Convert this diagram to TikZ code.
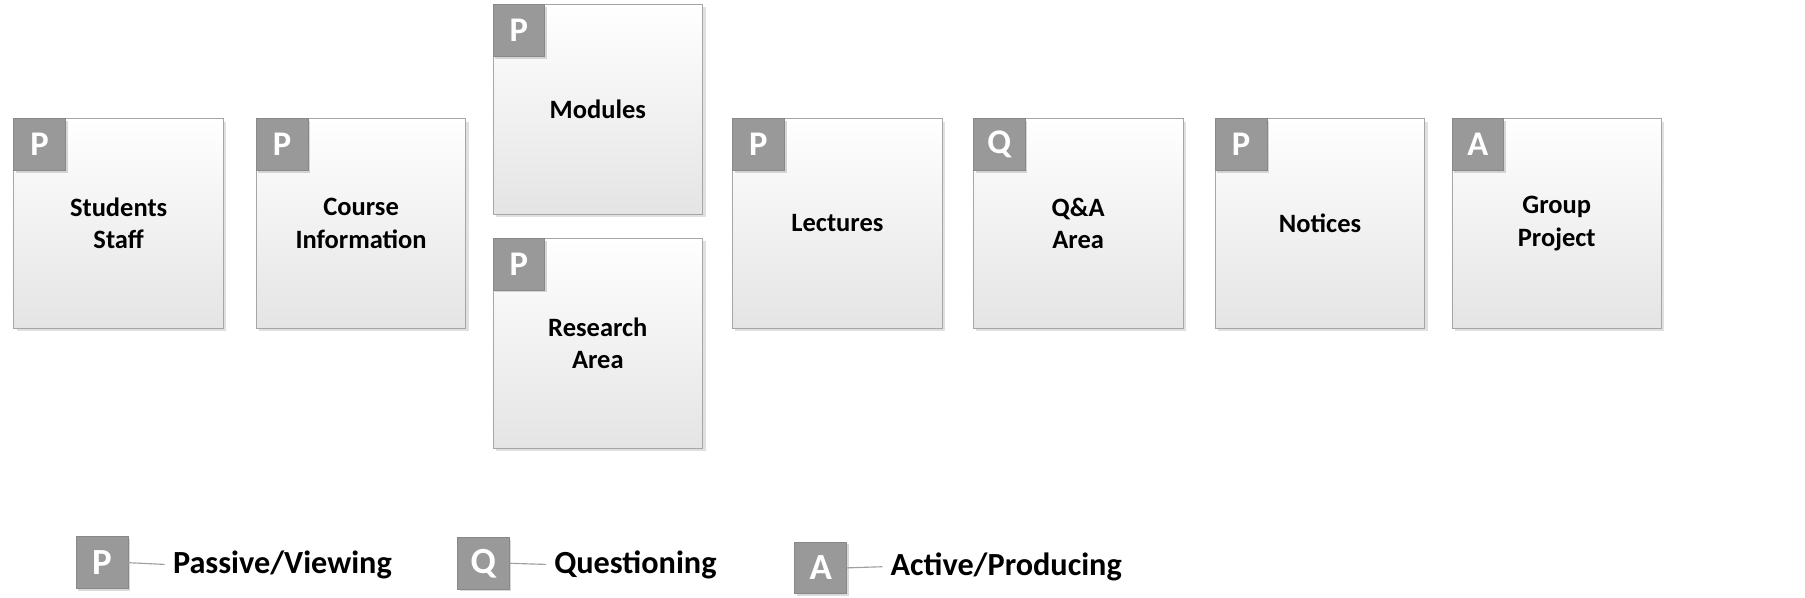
\documentclass[tikz,border=0pt]{standalone}
\usepackage{fontspec}
\setmainfont{Carlito}
\usetikzlibrary{shadows}
\definecolor{cardborder}{HTML}{A6A6A6}
\definecolor{cardbottom}{HTML}{E4E4E4}
\definecolor{badgefill}{HTML}{999999}
\definecolor{badgeborder}{HTML}{888888}
\definecolor{legline}{HTML}{A0A0A0}
\begin{document}
\begin{tikzpicture}[x=1pt,y=-1pt,
  card/.style={draw=cardborder, line width=0.8pt, top color=white, bottom color=cardbottom,
    minimum width=182pt, minimum height=182pt, inner sep=0pt, align=center,
    font=\bfseries\fontsize{23}{28}\selectfont,
    drop shadow={shadow xshift=2.5pt, shadow yshift=-2.5pt, fill=black, opacity=0.12}},
  badge/.style={fill=badgefill, draw=badgeborder, line width=0.6pt, minimum width=45pt, minimum height=45pt,
    inner sep=0pt, text=white, font=\bfseries\fontsize{30}{30}\selectfont,
    drop shadow={shadow xshift=2pt, shadow yshift=-2pt, fill=black, opacity=0.15}},
  lbadge/.style={badge, font=\bfseries\fontsize{32}{32}\selectfont},
  legtext/.style={anchor=west, inner sep=7pt, font=\bfseries\fontsize{28}{32}\selectfont},
  legline/.style={draw=legline, line width=1pt}]
\useasboundingbox (0,0) rectangle (1567,518.4);
% cards
\node[card] (students) at (103,194) {Students\\Staff};
\node[card] (course) at (313.5,194) {Course\\Information};
\node[card] (modules) at (519,95) {Modules};
\node[card] (research) at (519,298) {Research\\Area};
\node[card] (lectures) at (727,194) {Lectures};
\node[card] (qa) at (936,194) {Q\&A\\Area};
\node[card] (notices) at (1146,194) {Notices};
\node[card] (group) at (1351.5,194) {Group\\Project};
% badges
\node[badge, anchor=north west] (bstudents) at (students.north west) {P};
\node[badge, anchor=north west] (bcourse) at (course.north west) {P};
\node[badge, anchor=north west] (bmodules) at (modules.north west) {P};
\node[badge, anchor=north west] (bresearch) at (research.north west) {P};
\node[badge, anchor=north west] (blectures) at (lectures.north west) {P};
\node[badge, anchor=north west] (bqa) at (qa.north west) {Q};
\node[badge, anchor=north west] (bnotices) at (notices.north west) {P};
\node[badge, anchor=north west] (bgroup) at (group.north west) {A};
% legend
\node[lbadge] (lp) at (88.5,488.5) {P};
\node[legtext] (tp) at (143,490) {Passive/Viewing};
\draw[legline] (lp.east) -- (tp.west);
\node[lbadge] (lq) at (419.5,489) {Q};
\node[legtext] (tq) at (474,490) {Questioning};
\draw[legline] (lq.east) -- (tq.west);
\node[lbadge] (la) at (712.5,493) {A};
\node[legtext] (ta) at (766,492) {Active/Producing};
\draw[legline] (la.east) -- (ta.west);
\end{tikzpicture}
\end{document}
